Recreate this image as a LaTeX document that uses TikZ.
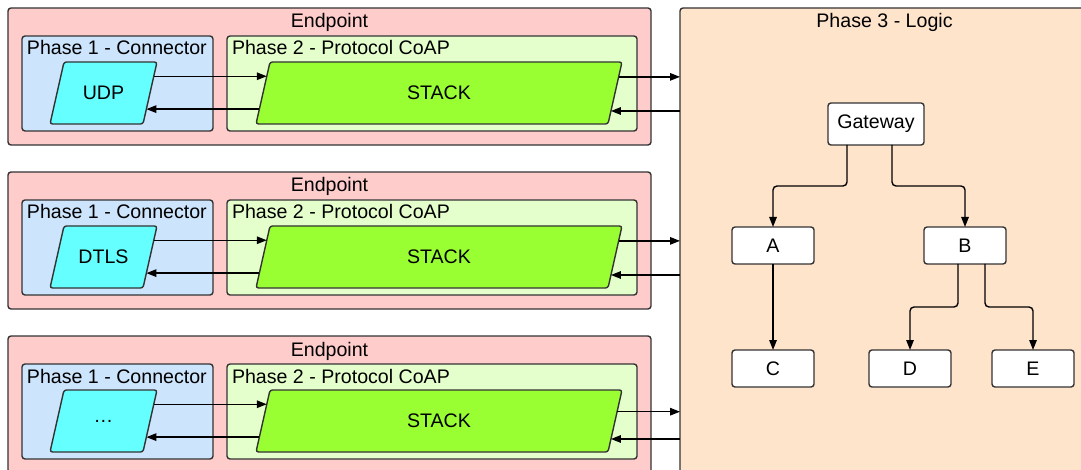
\documentclass[tikz,border=0pt]{standalone}
\usepackage{fontspec}
\setmainfont{Liberation Sans}
\usetikzlibrary{arrows.meta,calc}
\definecolor{bordc}{HTML}{333333}
\definecolor{epfill}{HTML}{FFCCCC}
\definecolor{ponefill}{HTML}{CCE4FC}
\definecolor{ptwofill}{HTML}{E5FFCC}
\definecolor{pthreefill}{HTML}{FFE4CC}
\definecolor{connfill}{HTML}{66FFFF}
\definecolor{stackfill}{HTML}{99FF33}

\begin{document}
\begin{tikzpicture}[x=1pt,y=-1pt,
  every node/.style={font=\fontsize{19.6}{24}\selectfont, outer sep=0pt},
  box/.style={draw=bordc, line width=1.4pt, rounded corners=3pt, inner sep=0pt},
  title/.style={anchor=base, inner sep=0pt},
  parashape/.style={draw=bordc, line width=1.4pt, rounded corners=2.5pt},
  leaf/.style={box, fill=white, minimum width=82pt, minimum height=37pt},
  conn/.style={draw=black, line width=1.4pt, -{Triangle[length=10pt,width=7.5pt]}},
]
\useasboundingbox (0,0) rectangle (1081,470);

% logic column
\node[box, fill=pthreefill, minimum width=409pt, minimum height=472pt] (p3) at (884.5,244) {};
\node[title] (p3t) at (884.5,28) {Phase 3 - Logic};

% three endpoints, each with connector and CoAP stack
\foreach \i/\lbl/\fo in {0/UDP/0.24,1/DTLS/0.24,2/\ldots/0.35}{
  \pgfmathsetmacro\dy{164*\i}
  \node[box, fill=epfill, minimum width=643pt, minimum height=137pt] (ep\i) at (329.5,76.5+\dy) {};
  \node[title] (ept\i) at (329.5,28+\dy) {Endpoint};
  \node[box, fill=ponefill, minimum width=191pt, minimum height=95pt] (pa\i) at (117.5,83.5+\dy) {};
  \node[title, anchor=base west] (pat\i) at (27,55+\dy) {Phase 1 - Connector};
  \node[box, fill=ptwofill, minimum width=410pt, minimum height=95pt] (pb\i) at (432,83.5+\dy) {};
  \node[title, anchor=base west] (pbt\i) at (232,55+\dy) {Phase 2 - Protocol CoAP};
  % connector parallelogram
  \coordinate (cnbl\i) at (50,124+\dy);
  \coordinate (cntl\i) at (64,62+\dy);
  \coordinate (cntr\i) at (157,62+\dy);
  \coordinate (cnbr\i) at (143,124+\dy);
  \draw[parashape, fill=connfill] (cnbl\i) -- (cntl\i) -- (cntr\i) -- (cnbr\i) -- cycle;
  \node (cn\i) at ($(cntl\i)!0.5!(cnbr\i)$) {\lbl};
  % stack parallelogram
  \coordinate (stbl\i) at (256,124+\dy);
  \coordinate (sttl\i) at (270,62+\dy);
  \coordinate (sttr\i) at (622,62+\dy);
  \coordinate (stbr\i) at (608,124+\dy);
  \draw[parashape, fill=stackfill] (stbl\i) -- (sttl\i) -- (sttr\i) -- (stbr\i) -- cycle;
  \node (st\i) at ($(sttl\i)!0.5!(stbr\i)$) {STACK};
  % data flow
  \draw[conn] ($(cntr\i)!0.23!(cnbr\i)$) -- ($(sttl\i)!0.23!(stbl\i)$);
  \draw[conn] ($(sttl\i)!0.76!(stbl\i)$) -- ($(cntr\i)!0.76!(cnbr\i)$);
  \coordinate (so\i) at ($(sttr\i)!\fo!(stbr\i)$);
  \coordinate (si\i) at ($(sttr\i)!0.79!(stbr\i)$);
  \draw[conn] (so\i) -- (so\i -| p3.west);
  \draw[conn] (si\i -| p3.west) -- (si\i);
}

% logic tree
\node[leaf, minimum width=96pt, minimum height=42pt] (gw) at (876,124) {Gateway};
\node[leaf] (na) at (773,245.5) {A};
\node[leaf] (nb) at (965,245.5) {B};
\node[leaf] (nc) at (773,368.5) {C};
\node[leaf] (nd) at (910,368.5) {D};
\node[leaf] (ne) at (1033,368.5) {E};

\draw[conn, rounded corners=4pt] ([xshift=-29pt]gw.south) -- ++(0,41) -| (na.north);
\draw[conn, rounded corners=4pt] ([xshift=16pt]gw.south) -- ++(0,41) -| (nb.north);
\draw[conn] (na) -- (nc);
\draw[conn, rounded corners=4pt] ([xshift=-7pt]nb.south) -- ++(0,43) -| (nd.north);
\draw[conn, rounded corners=4pt] ([xshift=20pt]nb.south) -- ++(0,43) -| (ne.north);
\end{tikzpicture}
\end{document}
